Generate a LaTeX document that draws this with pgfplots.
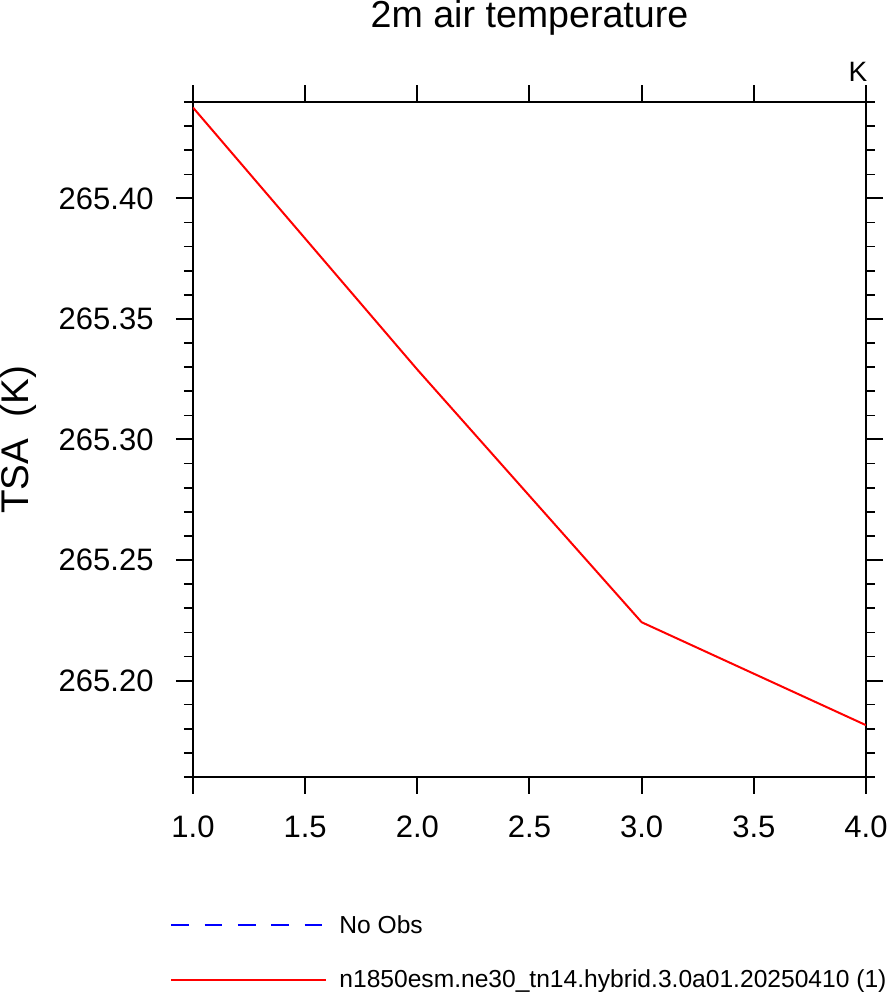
\documentclass[border=0pt]{standalone}
\usepackage{fontspec}
\setmainfont{Liberation Sans}
\usepackage{pgfplots}
\pgfplotsset{compat=1.18}

\begin{document}
\begin{tikzpicture}
\begin{axis}[
    at={(0pt,0pt)}, anchor=south west,
    scale only axis,
    width=336.5pt, height=337.5pt,
    xmin=1, xmax=4,
    ymin=265.16, ymax=265.44,
    xtick={1,1.5,2,2.5,3,3.5,4},
    ytick={265.2,265.25,265.3,265.35,265.4},
    minor ytick={265.16,265.17,265.18,265.19,265.21,265.22,265.23,265.24,
                 265.26,265.27,265.28,265.29,265.31,265.32,265.33,265.34,
                 265.36,265.37,265.38,265.39,265.41,265.42,265.43,265.44},
    tick align=outside,
    xtick pos=both, ytick pos=both,
    xticklabel pos=lower, yticklabel pos=left,
    major tick length=8.5pt,
    minor tick length=4.5pt,
    every tick/.style={black, line width=1pt},
    every minor tick/.style={black, line width=0.8pt},
    axis line style={line width=1pt},
    /pgf/number format/assume math mode=true,
    tick label style={font=\fontsize{15.5}{18}\selectfont},
    xticklabel style={/pgf/number format/.cd, fixed, fixed zerofill, precision=1},
    yticklabel style={/pgf/number format/.cd, fixed, fixed zerofill, precision=2},
    xticklabel shift=7.5pt,
    yticklabel shift=7.7pt,
    legend cell align=left,
    legend image code/.code={\draw[#1] (0pt,1pt) -- (77.5pt,1pt);},
    legend style={draw=none, fill=none, inner sep=0pt,
        at={(0,0)}, anchor=north west, xshift=-11.5pt, yshift=-68.8pt,
        font=\fontsize{12.3}{14}\selectfont,
        column sep=6pt, row sep=15.3pt,
        nodes={inner sep=0pt, text height=9pt, text depth=3pt}},
]
\addlegendimage{draw=blue, line width=1pt, dash pattern=on 8.85pt off 7.8pt}
\addlegendentry{No Obs}
\addplot[red, line width=1pt] coordinates {
    (1,265.4377) (2,265.3290) (3,265.2242) (4,265.1815)
};
\addlegendentry{n1850esm.ne30\_tn14.hybrid.3.0a01.20250410 (1)}
\end{axis}
\node[font=\fontsize{18.8}{22}\selectfont] at (168.25pt,379.5pt) {2m air temperature};
\node[font=\fontsize{14}{16}\selectfont] at (332.5pt,352.5pt) {K};
\node[rotate=90, font=\fontsize{19.3}{22}\selectfont] at (-87pt,168.5pt) {TSA\ \ (K)};
\pgfresetboundingbox
\path[use as bounding box] (-96.5pt,-107.5pt) rectangle (348pt,388.5pt);
\end{tikzpicture}
\end{document}
